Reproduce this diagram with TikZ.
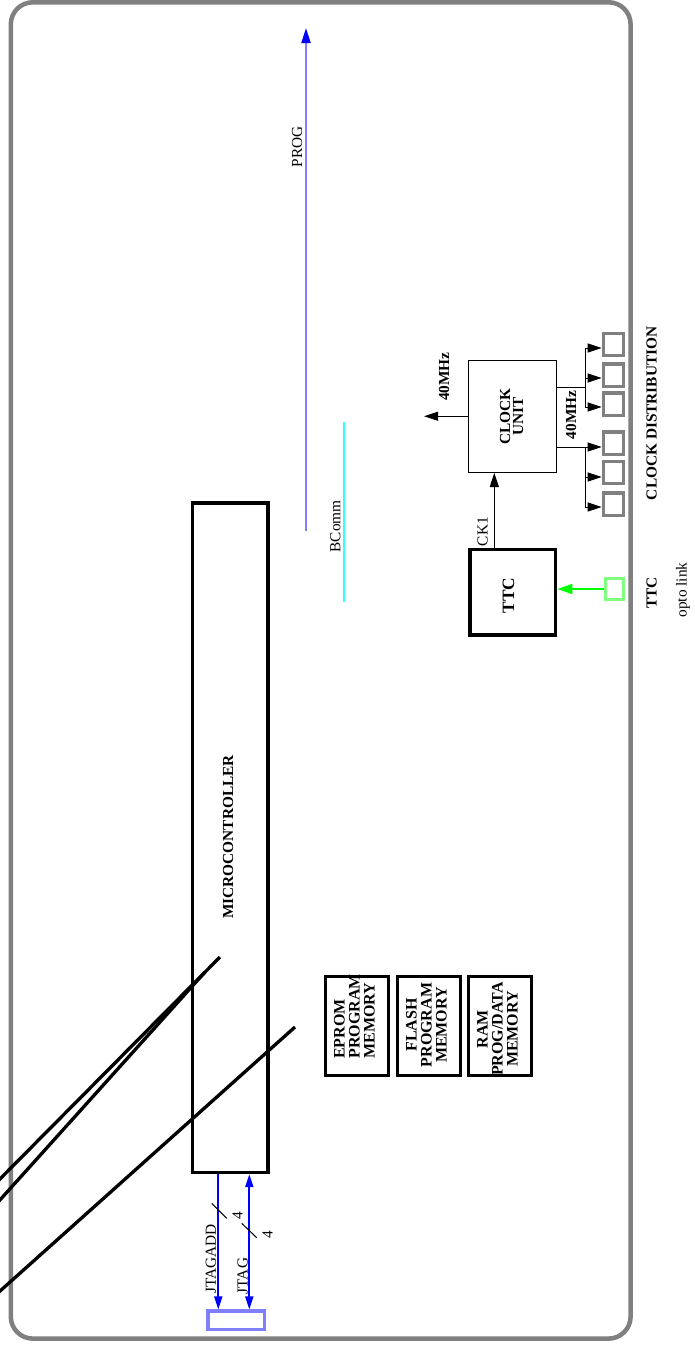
\documentclass[tikz,border=0pt]{standalone}
\usepackage{fontspec}
\setmainfont{Liberation Serif}
\usetikzlibrary{arrows.meta}
\definecolor{lblue}{HTML}{8080FF}
\definecolor{bordergray}{HTML}{808080}
\definecolor{lgreen}{HTML}{80FF80}
\definecolor{pureblue}{HTML}{0000FF}
\definecolor{puregreen}{HTML}{00FF00}
\definecolor{cyanline}{HTML}{33FFFF}
\tikzset{
  lbl/.style={rotate=90, inner sep=0pt, font=\fontsize{11.5}{11.25}\selectfont},
  blbl/.style={rotate=90, inner sep=0pt, font=\fontsize{11.5}{11.25}\selectfont\bfseries},
  memlbl/.style={rotate=90, inner sep=0pt, font=\fontsize{12}{11.25}\selectfont\bfseries},
  thickbox/.style={draw, line width=2.5pt, inner sep=0pt},
  thinbox/.style={draw, line width=0.75pt, inner sep=0pt},
  graybox/.style={draw=bordergray, line width=2.4pt, inner sep=0pt},
  wh/.style 2 args={minimum width={#1*0.75pt}, minimum height={#2*0.75pt}},
  blackarrow/.style={line width=0.75pt, -{Triangle[length=10.5pt, width=6.75pt]}},
  thinline/.style={line width=0.75pt},
  bluearrow/.style={pureblue, line width=1.4pt, -{Triangle[length=9.75pt, width=6pt]}},
  bluedouble/.style={pureblue, line width=1.4pt, {Triangle[length=9.75pt, width=6pt]}-{Triangle[length=9.75pt, width=6pt]}},
  diag/.style={line width=2.5pt},
}
\begin{document}
\begin{tikzpicture}[x=0.75pt, y=-0.75pt]
\useasboundingbox (0,0) rectangle (694,1346);

% outer frame
\draw[bordergray, line width=3.4pt, rounded corners=16.5pt] (10.8,2.3) rectangle (630.6,1338.6);

% microcontroller
\node[thickbox, wh={75.3}{669.5}] (mc) at (230.3,837.75) {};
\node[blbl] (mclbl) at (228,837) {MICROCONTROLLER};

% memories
\node[thickbox, wh={62.6}{98.6}] (eprom) at (357,1026) {};
\node[memlbl, align=left] (epromlbl) at (354.5,1016.5) {EPROM\\PROGRAM\\MEMORY};
\node[thickbox, wh={62.6}{98.6}] (flash) at (429,1026) {};
\node[memlbl, align=center] (flashlbl) at (426.5,1025) {FLASH\\PROGRAM\\MEMORY};
\node[thickbox, wh={62.6}{98.6}] (ram) at (500,1026) {};
\node[memlbl, align=center] (ramlbl) at (497.5,1029) {RAM\\PROG/DATA\\MEMORY};

% clock unit
\node[thinbox, wh={88}{112.5}] (clock) at (512,416.25) {};
\node[blbl, align=center, font=\fontsize{11.5}{9.75}\selectfont\bfseries] (clocklbl) at (511.5,416.5) {CLOCK\\UNIT};
\coordinate (f40) at (424,416.25);
\draw[blackarrow] (clock.west) -- (f40);
\node[blbl] (f40lbl) at (444,376.7) {40MHz};

% TTC
\node[thickbox, wh={85.7}{85.7}] (ttc) at (512.85,592.15) {};
\node[blbl, font=\fontsize{13}{13}\selectfont\bfseries] (ttclbl) at (508.5,595.5) {TTC};
\coordinate (ck1x) at (494.3,0);
\draw[blackarrow] (ttc.north -| ck1x) -- (clock.south -| ck1x);
\node[lbl] (ck1lbl) at (482.5,531.7) {CK1};

% opto link
\node[draw=lgreen, line width=2.3pt, inner sep=0pt, wh={18.4}{21.4}] (opto) at (614.5,589) {};
\draw[puregreen, line width=1.4pt, -{Triangle[length=11.25pt, width=7.5pt]}] (opto.west) -- (ttc.east |- opto.west);
\node[blbl] (ttcname) at (651.7,593) {TTC};
\node[lbl] (optolbl) at (683,590) {opto link};

% clock distribution
\node[graybox, wh={20.5}{22.2}] (g1) at (613.5,344.5) {};
\node[graybox, wh={20.5}{22.2}] (g2) at (613.5,375) {};
\node[graybox, wh={20.5}{22.2}] (g3) at (613.5,404) {};
\node[graybox, wh={20.5}{22.2}] (g4) at (613.5,443) {};
\node[graybox, wh={20.5}{22.2}] (g5) at (613.5,472.5) {};
\node[graybox, wh={20.5}{22.2}] (g6) at (613.5,504) {};
\coordinate (a1) at (585,348);
\coordinate (a2) at (585,378);
\coordinate (a3) at (585,407);
\coordinate (a4) at (585,447);
\coordinate (a5) at (585,477);
\coordinate (a6) at (585,507);
\coordinate (busA) at (585,387);
\draw[thinline] (clock.east |- busA) -- (busA);
\draw[thinline] (clock.east |- a4) -- (a4);
\draw[thinline] (a1) -- (a3);
\draw[thinline] (a4) -- (a6);
\draw[blackarrow] (a1) -- (a1 -| g1.west);
\draw[blackarrow] (a2) -- (a2 -| g2.west);
\draw[blackarrow] (a3) -- (a3 -| g3.west);
\draw[blackarrow] (a4) -- (a4 -| g4.west);
\draw[blackarrow] (a5) -- (a5 -| g5.west);
\draw[blackarrow] (a6) -- (a6 -| g6.west);
\node[blbl] (f40lblb) at (571,415) {40MHz};
\node[blbl] (cdlbl) at (651.7,413.3) {CLOCK DISTRIBUTION};

% PROG and BComm
\coordinate (progS) at (306,531);
\coordinate (progE) at (306,28);
\draw[lblue, line width=1.5pt, -{Triangle[length=11.25pt, width=6.75pt, color=pureblue]}] (progS) -- (progE);
\node[lbl] (proglbl) at (297,147) {PROG};
\coordinate (bcS) at (343.7,602.3);
\coordinate (bcE) at (343.7,421.7);
\draw[cyanline, line width=1.5pt] (bcS) -- (bcE);
\node[lbl] (bclbl) at (335.3,526.3) {BComm};

% JTAG
\node[draw=lblue, line width=2.3pt, inner sep=0pt, wh={56.3}{18.3}] (jbox) at (236.15,1320.15) {};
\coordinate (j1) at (218.3,0);
\coordinate (j2) at (249.3,0);
\draw[bluearrow] (mc.south -| j1) -- (jbox.north -| j1);
\draw[bluedouble] (mc.south -| j2) -- (jbox.north -| j2);
\draw[thinline] (211.7,1203.3) -- (226.7,1218.3);
\draw[thinline] (241.7,1223.3) -- (256.7,1237.7);
\node[lbl] (n4a) at (237.5,1216) {4};
\node[lbl] (n4b) at (267.5,1235) {4};
\node[lbl] (jalbl) at (210.8,1259) {JTAGADD};
\node[lbl] (jlbl) at (242.5,1276) {JTAG};

% diagonal lines
\begin{scope}
\clip (0,0) rectangle (694,1346);
\draw[diag] (220,957) -- (-10,1189);
\draw[diag] (205,972) -- (-10,1211);
\draw[diag] (295,1027) -- (-10,1300);
\end{scope}
\end{tikzpicture}
\end{document}
